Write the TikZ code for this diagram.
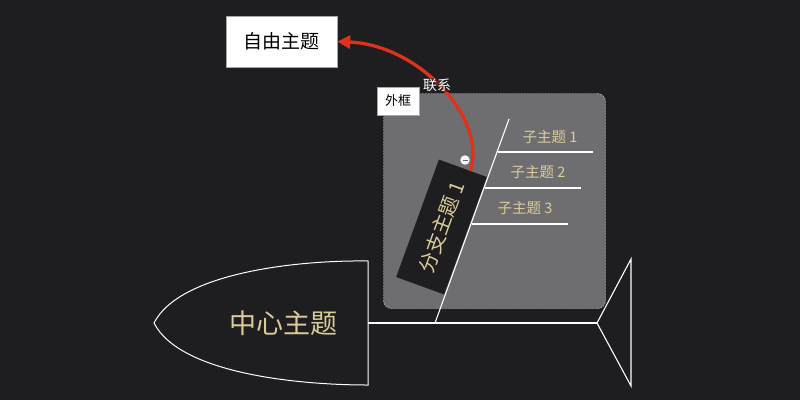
\documentclass[tikz,border=0pt]{standalone}
\usepackage{fontspec}
\setmainfont{Noto Sans CJK SC}
\usetikzlibrary{arrows.meta}
\definecolor{bg}{HTML}{1E1E20}
\definecolor{beige}{HTML}{DCCB9A}
\definecolor{bgray}{HTML}{6E6E70}
\definecolor{relred}{HTML}{E0321A}
\begin{document}
\begin{tikzpicture}[x=1pt,y=-1pt,
  bone/.style={draw=white,line width=1.1pt},
  subtxt/.style={text=beige,font=\fontsize{14.5}{16}\selectfont,inner sep=0pt},
  whitebox/.style={draw=gray!70,fill=white,text=black,inner sep=0pt}]
\fill[bg] (0,0) rectangle (800,400);
\useasboundingbox (0,0) rectangle (800,400);
% boundary
\node[draw=gray!40,dash pattern=on 2pt off 1pt,fill=bgray,rounded corners=8pt,
  minimum width=222pt,minimum height=215pt,inner sep=0pt] (frame) at (494.5,201) {};
\node[whitebox,minimum width=42pt,minimum height=28pt,font=\fontsize{13}{15}\selectfont] (framelbl) at (398,101) {外框};
% head
\draw[bone,line width=1pt] (368,261) .. controls (300,260) and (180,272) .. (154,323)
  .. controls (180,374) and (300,385) .. (368,385) -- cycle;
\node[text=beige,font=\fontsize{27}{29}\selectfont,inner sep=0pt] (center) at (283,323) {中心主题};
\coordinate (spineL) at (368,323);
\coordinate (spineR) at (597,323);
\coordinate (tailT) at (631,259);
\coordinate (tailB) at (631,386);
\draw[bone] (spineL) -- (spineR);
\draw[bone,line join=miter] (tailT) -- (spineR) -- (tailB) -- cycle;
% branch topic
\node[fill=bg,rotate=70,minimum width=125pt,minimum height=51pt,inner sep=0pt,
  text=beige,font=\fontsize{20}{22}\selectfont] (branch) at (441.5,227) {分支主题 1};
% bone
\coordinate (boneB) at (435,323);
\coordinate (boneT) at (509,119);
\draw[bone] (boneB) -- (boneT);
% sub topics
\coordinate (s1a) at (498,152); \coordinate (s1b) at (593,152);
\coordinate (s2a) at (485,188); \coordinate (s2b) at (581,188);
\coordinate (s3a) at (472,224); \coordinate (s3b) at (568,224);
\draw[bone] (s1a) -- (s1b);
\draw[bone] (s2a) -- (s2b);
\draw[bone] (s3a) -- (s3b);
\node[subtxt] (sub1) at (550,137) {子主题 1};
\node[subtxt] (sub2) at (538,172) {子主题 2};
\node[subtxt] (sub3) at (525,208) {子主题 3};
% free topic
\node[whitebox,minimum width=111pt,minimum height=51pt,font=\fontsize{19}{21}\selectfont] (free) at (281.5,41.5) {自由主题};
% relationship
\coordinate (relstart) at (470,171);
\draw[relred,line width=3.3pt,-{Triangle[length=13pt,width=13pt]}]
  (relstart) .. controls (488,120) and (420,45) .. (free.east);
\node[text=white,fill=bg,fill opacity=0.6,text opacity=1,inner sep=1pt,
  font=\fontsize{14}{16}\selectfont] (rellbl) at (437,85) {联系};
% collapse button
\node[circle,draw=gray,fill=white,minimum size=10pt,inner sep=0pt] (collapse) at (465,160) {};
\draw[gray!80!blue,line width=0.8pt] ([xshift=-2.5pt]collapse.center) -- ([xshift=2.5pt]collapse.center);
\end{tikzpicture}
\end{document}
